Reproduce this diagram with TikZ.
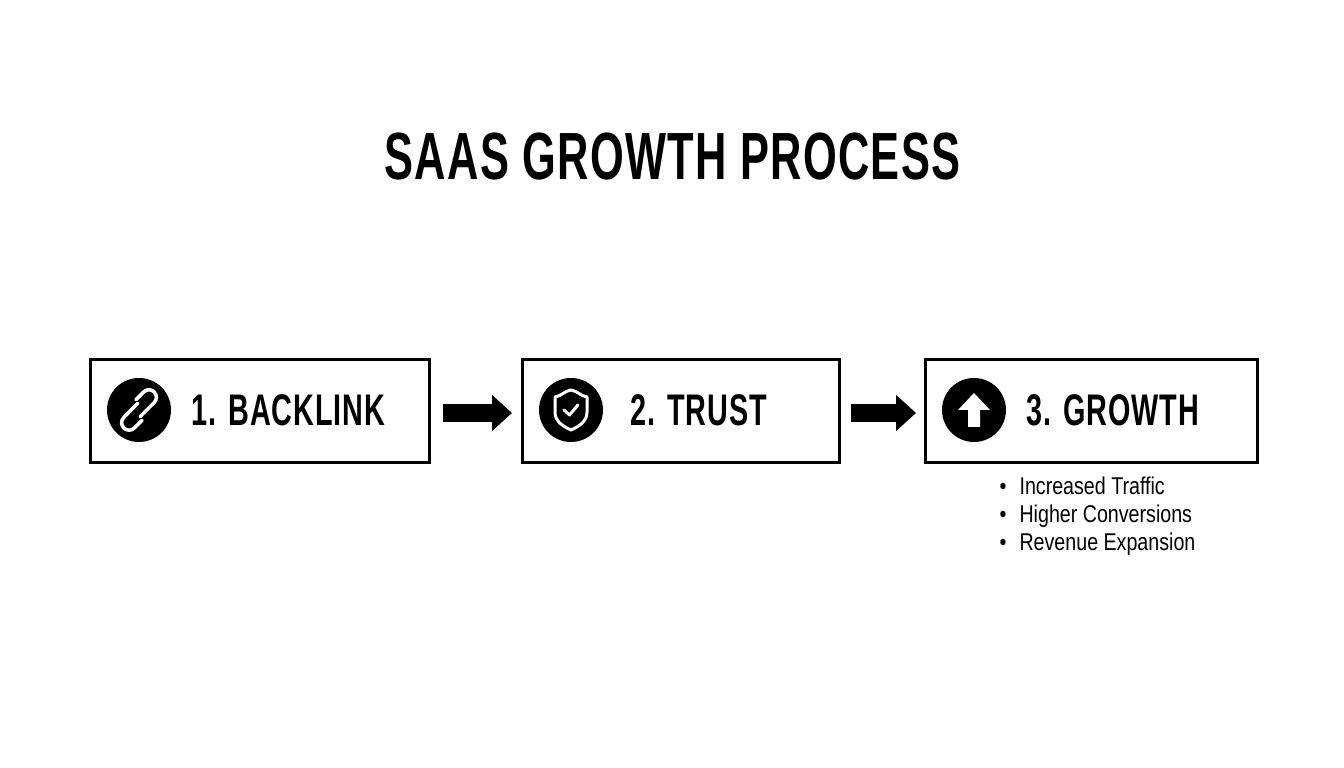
\documentclass[tikz,border=0pt]{standalone}
\usepackage{fontspec}
\setmainfont{Liberation Sans}
\newfontfamily\headfont[FakeStretch=0.65, LetterSpace=2]{Liberation Sans Bold}
\newfontfamily\listfont[FakeStretch=0.81]{Liberation Sans}
\usetikzlibrary{calc, arrows.meta}

\tikzset{
	stepbox/.style = {draw, line width = 0.03cm, minimum height = 1.03cm, inner sep = 0pt},
	stepicon/.style = {circle, fill = black, minimum size = 0.64cm, inner sep = 0pt},
	steplabel/.style = {anchor = west, inner sep = 0pt, font = \headfont\fontsize{12.6}{15}\selectfont},
	flow/.style = {line width = 0.18cm, -{Triangle[length = 0.2cm, width = 0.35cm]}},
	iconline/.style = {draw = white, line width = 0.03cm, line cap = round, line join = round}
}

\begin{document}
\begin{tikzpicture}
		\def\xMAX{13.44};
		\def\yMAX{7.68};

		\useasboundingbox (0,0) rectangle (\xMAX,\yMAX);

		\node [anchor = center, inner sep = 0pt, font = \headfont\fontsize{19}{23}\selectfont] (title) at (6.725,6.11) {SAAS GROWTH PROCESS};

		\node [stepbox, minimum width = 3.39cm] (backlink) at (2.6,3.57) {};
		\node [stepbox, minimum width = 3.17cm] (trust) at (6.81,3.57) {};
		\node [stepbox, minimum width = 3.32cm] (growth) at (10.915,3.57) {};

		\node [steplabel] (backlinklabel) at (1.91,3.58) {1. BACKLINK};
		\node [steplabel] (trustlabel) at (6.3,3.58) {2. TRUST};
		\node [steplabel] (growthlabel) at (10.26,3.58) {3. GROWTH};

		\node [stepicon] (chain) at (1.39,3.58) {};
		\node [stepicon] (shield) at (5.71,3.58) {};
		\node [stepicon] (up) at (9.74,3.58) {};

		\draw [flow] ($ (backlink.east) + (0.12,-0.02) $) -- ($ (trust.west) + (-0.09,-0.02) $);
		\draw [flow] ($ (trust.east) + (0.1,-0.02) $) -- ($ (growth.west) + (-0.08,-0.02) $);

		% link icon
		\begin{scope}[shift = {(chain.center)}, rotate = 45, line width = 0.035cm]
			\draw [iconline, line width = 0.035cm] (0.04,0.055) -- (-0.16,0.055) arc (90:270:0.075) -- (-0.05,-0.095);
			\draw [iconline, line width = 0.035cm] (0.05,0.095) -- (0.16,0.095) arc (90:-90:0.075) -- (-0.04,-0.055);
		\end{scope}

		% shield icon
		\begin{scope}[shift = {(shield.center)}]
			\draw [iconline] (0,0.2) to [out = -10, in = 170] (0.16,0.13) -- (0.16,-0.02) to [out = -90, in = 25] (0,-0.2) to [out = 155, in = -90] (-0.16,-0.02) -- (-0.16,0.13) to [out = 10, in = 190] cycle;
			\draw [iconline] (-0.07,0) -- (-0.015,-0.05) -- (0.07,0.05);
		\end{scope}

		% up arrow icon
		\fill [white, shift = {(up.center)}] (0,0.17) -- (0.16,0) -- (0.06,0) -- (0.06,-0.17) -- (-0.06,-0.17) -- (-0.06,0) -- (-0.16,0) -- cycle;

		\node [anchor = north west, inner sep = 0pt, align = left, font = \listfont\fontsize{6.9}{7.95}\selectfont] (results) at (9.99,2.92) {\textbullet\hspace{0.13cm}Increased Traffic\\\textbullet\hspace{0.13cm}Higher Conversions\\\textbullet\hspace{0.13cm}Revenue Expansion};
	\end{tikzpicture}
\end{document}
